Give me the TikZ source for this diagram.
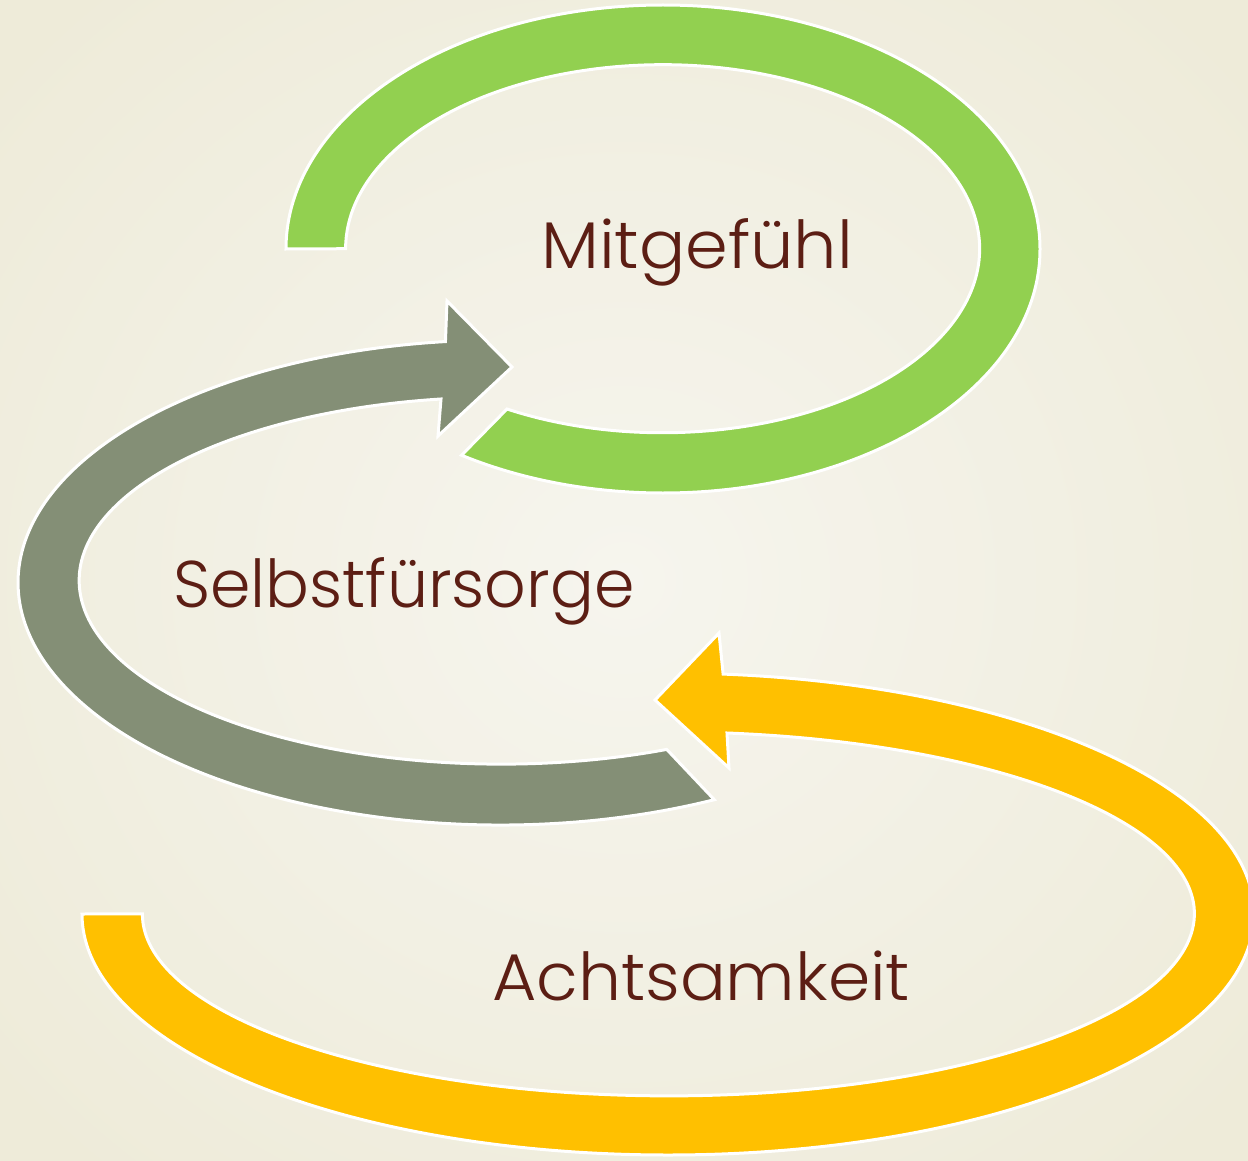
\documentclass[tikz,border=0pt]{standalone}
\usepackage{fontspec}
\setmainfont{Poppins Light}
\definecolor{bgin}{HTML}{F6F5EE}
\definecolor{bgout}{HTML}{EEEBD9}
\definecolor{cgreen}{HTML}{92D050}
\definecolor{cgrey}{HTML}{848F76}
\definecolor{cyellow}{HTML}{FFC000}
\definecolor{txt}{HTML}{5C1E14}
\begin{document}
\begin{tikzpicture}[x=1pt,y=-1pt,
  band/.style={draw=white, line width=3pt, line join=miter},
  lbl/.style={text=txt, anchor=base west, inner sep=0pt, font=\fontsize{66}{78}\selectfont}]
\useasboundingbox (0,0) rectangle (1248,1161);
\shade[inner color=bgin, outer color=bgout] (-200,-200) rectangle (1448,1361);
% green band (Mitgefuehl)
\path[band, fill=cgreen] (286,249) arc[start angle=180, end angle=482.3, x radius=377, y radius=244]
  -- (507,409) arc[start angle=479.4, end angle=180, x radius=317, y radius=184] -- cycle;
% grey arrow (Selbstfuersorge)
\path[band, fill=cgrey] (714.3,799.7) arc[start angle=63.6, end angle=263.5, x radius=482, y radius=242.5]
  -- (447,301) -- (512,367) -- (438,436) -- (441,399)
  arc[start angle=261.8, end angle=66.9, x radius=422, y radius=183.5] -- cycle;
% yellow arrow (Achtsamkeit)
\path[band, fill=cyellow] (82,914) arc[start angle=180, end angle=-84.6, x radius=586, y radius=241]
  -- (719,633) -- (655,700) -- (729,768) -- (727,733)
  arc[start angle=-83.6, end angle=180, x radius=526, y radius=182] -- cycle;
\node[lbl, xscale=1.04] (mit) at (541,269) {Mitgefühl};
\node[lbl, xscale=0.985] (selbst) at (173,607) {Selbstfürsorge};
\node[lbl, xscale=1.03] (acht) at (492,1000) {Achtsamkeit};
\end{tikzpicture}
\end{document}
